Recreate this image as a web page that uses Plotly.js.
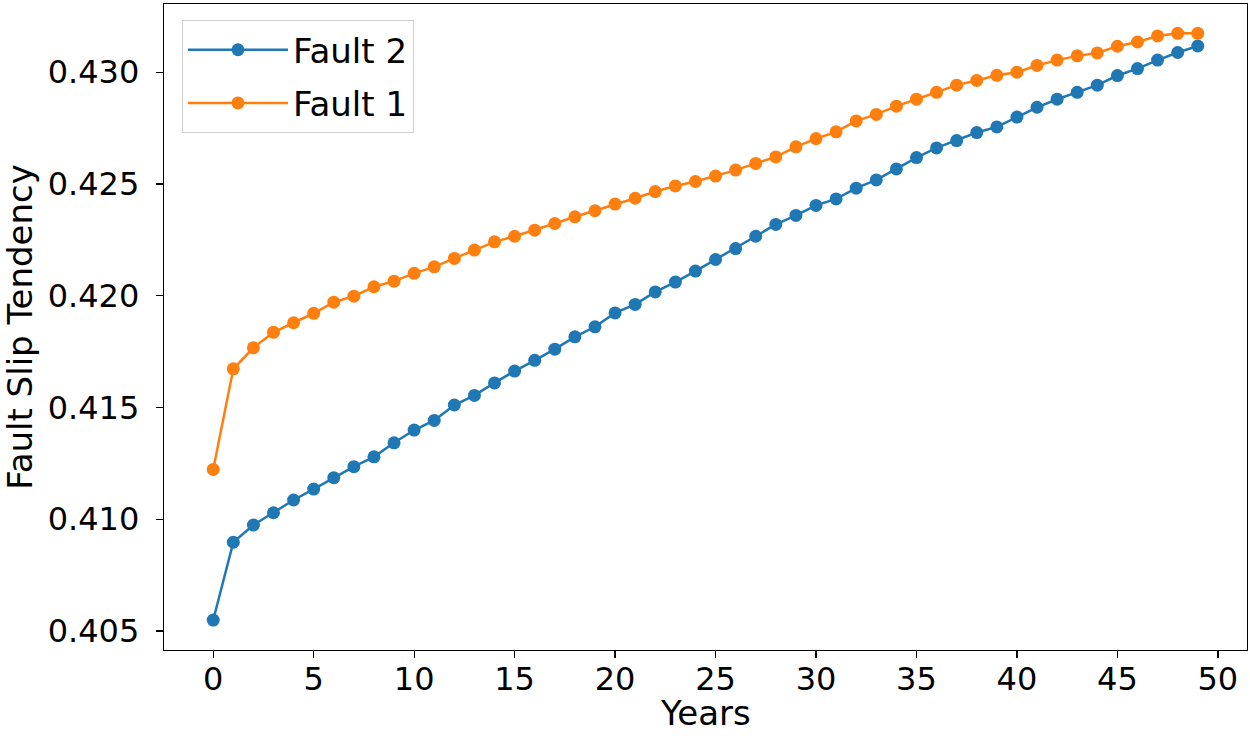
<!DOCTYPE html>
<html>
<head>
<meta charset="utf-8">
<script src="https://cdn.plot.ly/plotly-3.0.1.min.js"></script>
<style>html,body{margin:0;padding:0;background:#fff;}#chart{width:1250px;height:736px;}</style>
</head>
<body>
<div id="chart"></div>
<script>
const years = Array.from({length: 50}, (_, i) => i);
const fault2 = [0.40549, 0.40897, 0.40974, 0.41029, 0.41086, 0.41135, 0.41186, 0.41235, 0.41279, 0.41342,
  0.41399, 0.41442, 0.41511, 0.41554, 0.41610, 0.41663, 0.41711, 0.41761, 0.41816, 0.41861,
  0.41923, 0.41961, 0.42017, 0.42061, 0.42110, 0.42162, 0.42211, 0.42266, 0.42319, 0.42359,
  0.42404, 0.42433, 0.42481, 0.42518, 0.42567, 0.42618, 0.42661, 0.42694, 0.42730, 0.42755,
  0.42799, 0.42843, 0.42879, 0.42910, 0.42942, 0.42985, 0.43016, 0.43054, 0.43088, 0.43117];
const fault1 = [0.41223, 0.41673, 0.41767, 0.41836, 0.41879, 0.41921, 0.41971, 0.41998, 0.42040, 0.42065,
  0.42100, 0.42129, 0.42167, 0.42204, 0.42241, 0.42266, 0.42293, 0.42323, 0.42353, 0.42380,
  0.42410, 0.42436, 0.42466, 0.42491, 0.42511, 0.42535, 0.42562, 0.42592, 0.42621, 0.42666,
  0.42703, 0.42733, 0.42782, 0.42811, 0.42848, 0.42879, 0.42910, 0.42942, 0.42963, 0.42986,
  0.43000, 0.43030, 0.43054, 0.43073, 0.43086, 0.43116, 0.43135, 0.43162, 0.43174, 0.43174];
const xTicks = [0, 5, 10, 15, 20, 25, 30, 35, 40, 45, 50];
const yTicks = [0.405, 0.410, 0.415, 0.420, 0.425, 0.430];
const yTickText = ['0.405', '0.410', '0.415', '0.420', '0.425', '0.430'];
const xTitle = 'Years';
const yTitle = 'Fault Slip Tendency';

const tickFont = {family: 'DejaVu Sans', size: 32, color: '#000'};
const titleFont = {family: 'DejaVu Sans', size: 34, color: '#000'};
const legendFont = {family: 'DejaVu Sans', size: 34, color: '#000'};
const traces = [
  {x: years, y: fault2, name: 'Fault 2', mode: 'lines+markers', type: 'scatter', legendgroup: 'g2',
   line: {color: '#1f77b4', width: 2.5}, marker: {color: '#1f77b4', size: 13}},
  {x: years, y: fault1, name: 'Fault 1', mode: 'lines+markers', type: 'scatter', legendgroup: 'g1',
   line: {color: '#ff7f0e', width: 2.5}, marker: {color: '#ff7f0e', size: 13}}
];
const axisCommon = {showline: true, mirror: true, linecolor: '#000', linewidth: 1.3,
  ticks: 'outside', ticklen: 7, tickwidth: 1.3, tickcolor: '#000', showgrid: false, zeroline: false,
  tickfont: tickFont};
const layout = {
  width: 1250, height: 736,
  margin: {l: 164, r: 3, t: 4, b: 86},
  paper_bgcolor: '#fff', plot_bgcolor: '#fff',
  font: tickFont,
  showlegend: true,
  legend: {x: 0.0166, y: 0.975, xanchor: 'left', yanchor: 'top', bgcolor: '#fff',
    bordercolor: '#d0d0d0', borderwidth: 1, font: legendFont, itemwidth: 100, tracegroupgap: 6},
  xaxis: Object.assign({}, axisCommon, {range: [-2.45, 51.45], tickvals: xTicks, ticklabelstandoff: -7}),
  yaxis: Object.assign({}, axisCommon, {range: [0.40415, 0.43305], tickvals: yTicks, ticktext: yTickText,
    title: {text: yTitle, font: titleFont, standoff: 8}, ticklabelstandoff: 10}),
  annotations: [{text: xTitle, xref: 'paper', yref: 'paper', x: 0.5, y: -0.098,
    xanchor: 'center', yanchor: 'middle', showarrow: false, borderpad: 0, font: titleFont}]
};
Plotly.newPlot('chart', traces, layout, {displayModeBar: false, staticPlot: true});
</script>
</body>
</html>
